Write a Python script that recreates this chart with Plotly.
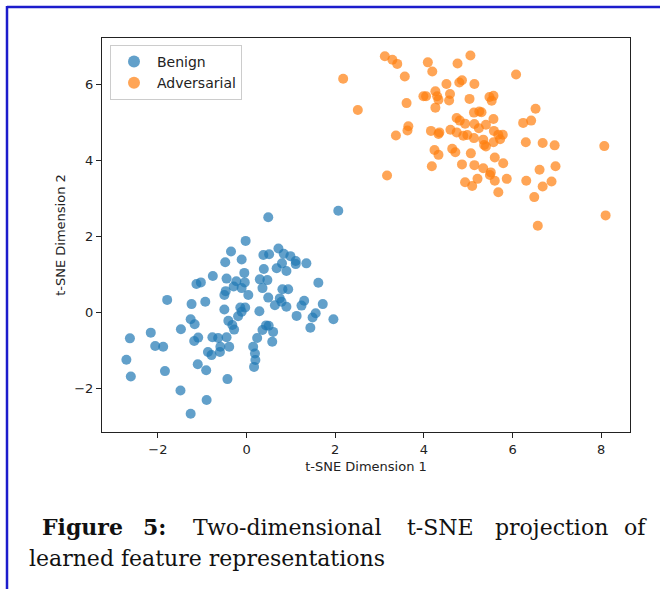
import plotly.graph_objects as go

# ---- data ----
benign_x = [2.07, 0.49, -0.02, -0.35, 0.72, 0.38, 0.51, 0.84, 0.99, 1.11, 1.11, 1.35, -0.48, -0.11, 0.80,
            0.68, 0.90, 0.39, -0.05, -0.76, -0.45, -0.23, -0.04, 0.30, 0.47, -1.03, -1.13, 1.62, -0.11, -0.29,
            -0.47, 0.36, 0.81, 0.94, -0.50, 0.04, -1.79, -0.93, -1.24, 0.49, 0.75, 0.64, 0.90, 1.30, 1.24,
            1.72, -0.14, -0.03, -0.50, 0.29, -0.11, -0.19, 1.13, 1.56, 1.49, 1.96, -1.26, -1.17, -0.41, -0.32,
            -0.28, 0.44, 0.50, 0.36, 0.60, -1.48, -2.16, -2.63, -1.09, -1.18, -0.77, -0.64, -0.45, 0.24, 0.58,
            -2.06, -1.88, -0.59, -0.39, 0.15, -0.87, -0.60, -0.79, 0.19, 0.20, -2.71, 0.17, -1.84, -1.10, -0.91,
            -2.61, -0.43, -1.49, -0.90, -1.26, 1.44, 0.79]
benign_y = [2.67, 2.50, 1.88, 1.60, 1.68, 1.51, 1.53, 1.54, 1.48, 1.35, 1.27, 1.29, 1.32, 1.39, 1.29,
            1.16, 1.09, 1.14, 1.04, 0.96, 0.89, 0.82, 0.79, 0.87, 0.85, 0.79, 0.75, 0.78, 0.64, 0.68,
            0.56, 0.64, 0.61, 0.61, 0.46, 0.46, 0.33, 0.28, 0.22, 0.39, 0.37, 0.19, 0.15, 0.31, 0.18,
            0.22, 0.13, 0.13, 0.08, 0.03, 0.02, -0.10, -0.09, -0.02, -0.13, -0.18, -0.18, -0.31, -0.22, -0.33,
            -0.45, -0.34, -0.35, -0.46, -0.51, -0.44, -0.53, -0.68, -0.66, -0.75, -0.65, -0.67, -0.65, -0.67, -0.77,
            -0.88, -0.90, -0.90, -0.90, -0.90, -1.04, -1.04, -1.12, -1.08, -1.25, -1.24, -1.43, -1.54, -1.36, -1.52,
            -1.68, -1.75, -2.05, -2.30, -2.66, -0.40, 0.28]

adv_x = [3.12, 3.29, 3.40, 5.05, 4.09, 4.76, 4.19, 2.18, 3.57, 6.08, 4.51, 4.80, 4.86, 5.14, 3.99,
         4.05, 4.26, 4.30, 4.33, 4.59, 4.57, 4.26, 5.03, 5.48, 5.57, 5.53, 2.51, 3.61, 5.13, 5.25,
         5.30, 6.52, 6.24, 6.42, 4.74, 4.81, 4.93, 5.14, 5.40, 5.57, 3.65, 3.63, 3.37, 4.16, 4.35,
         4.33, 4.60, 4.74, 4.89, 4.98, 5.24, 5.13, 5.34, 5.36, 5.40, 5.58, 5.68, 5.78, 5.72, 5.57,
         6.30, 6.68, 6.95, 8.07, 4.24, 4.33, 4.64, 4.71, 5.06, 5.60, 4.18, 4.86, 5.14, 5.34, 5.79,
         5.51, 5.49, 5.60, 5.21, 4.93, 5.09, 5.87, 3.17, 6.31, 6.61, 6.97, 6.68, 6.88, 5.68, 6.49,
         6.57, 8.10]
adv_y = [6.73, 6.64, 6.53, 6.75, 6.57, 6.54, 6.33, 6.14, 6.20, 6.25, 6.00, 6.04, 6.10, 6.00, 5.68,
         5.68, 5.81, 5.68, 5.59, 5.74, 5.57, 5.38, 5.61, 5.66, 5.69, 5.56, 5.32, 5.50, 5.25, 5.28,
         5.26, 5.35, 4.98, 5.04, 5.11, 5.04, 4.96, 4.95, 4.93, 5.08, 4.89, 4.78, 4.65, 4.77, 4.73,
         4.69, 4.80, 4.73, 4.64, 4.66, 4.84, 4.58, 4.54, 4.40, 4.36, 4.77, 4.67, 4.67, 4.55, 4.47,
         4.47, 4.45, 4.39, 4.37, 4.27, 4.14, 4.30, 4.21, 4.18, 4.07, 3.84, 3.89, 3.87, 3.79, 3.92,
         3.68, 3.61, 3.46, 3.51, 3.42, 3.32, 3.51, 3.60, 3.46, 3.75, 3.84, 3.31, 3.44, 3.16, 3.03,
         2.28, 2.55]

series_names = ["Benign", "Adversarial"]
x_ticks = [-2, 0, 2, 4, 6, 8]
y_ticks = [-2, 0, 2, 4, 6]
x_title = "t-SNE Dimension 1"
y_title = "t-SNE Dimension 2"

# ---- layout geometry (pixels) ----
W, H = 660, 589
L, R, T, B = 102, 30, 38, 157
PW, PH = W - L - R, H - T - B


def px(xp):
    return (xp - L) / PW


def py(yp):
    return (H - B - yp) / PH


fig = go.Figure()
fig.add_trace(go.Scatter(x=benign_x, y=benign_y, mode="markers", name=series_names[0],
                         marker=dict(color="#1f77b4", size=10, opacity=0.7, line=dict(width=0))))
fig.add_trace(go.Scatter(x=adv_x, y=adv_y, mode="markers", name=series_names[1],
                         marker=dict(color="#ff7f0e", size=10, opacity=0.7, line=dict(width=0))))

axis_common = dict(showgrid=False, zeroline=False, showline=True, linecolor="#222222", linewidth=1.2,
                   mirror=True, ticks="outside", ticklen=5, tickwidth=1, tickcolor="#222222",
                   tickfont=dict(family="DejaVu Sans", size=13, color="#222222"))

fig.update_xaxes(range=[-3.26, 8.65], tickvals=x_ticks,
                 title=dict(text=x_title, font=dict(family="DejaVu Sans", size=13, color="#222222"), standoff=6),
                 **axis_common)
fig.update_yaxes(range=[-3.14, 7.21], tickvals=y_ticks,
                 title=dict(text=y_title, font=dict(family="DejaVu Sans", size=13, color="#222222"), standoff=5),
                 **axis_common)

# caption (justified first line placed word by word)
cap_font = dict(family="DejaVu Serif", size=22, color="#111111")
line1_y, line2_y = 527, 558
words1 = [("<b>Figure</b>", 40, "left"), ("<b>5:</b>", 154, "center"), ("Two-dimensional", 287, "center"),
          ("t-SNE", 440, "center"), ("projection", 551, "center"), ("of", 649, "right")]
annotations = []
for txt, xpix, anc in words1:
    annotations.append(dict(text=txt, x=px(xpix), y=py(line1_y), xref="paper", yref="paper",
                            xanchor=anc, yanchor="middle", showarrow=False, font=cap_font))
annotations.append(dict(text="learned feature representations", x=px(27), y=py(line2_y), xref="paper",
                        yref="paper", xanchor="left", yanchor="middle", showarrow=False, font=cap_font))

border_color = "#1c1ccc"
shapes = [
    dict(type="line", xref="paper", yref="paper", x0=px(7), x1=px(W + 5), y0=py(7), y1=py(7),
         line=dict(color=border_color, width=2.5)),
    dict(type="line", xref="paper", yref="paper", x0=px(7), x1=px(7), y0=py(6), y1=py(H + 5),
         line=dict(color=border_color, width=2.5)),
]

fig.update_layout(
    width=W, height=H,
    margin=dict(l=L, r=R, t=T, b=B, pad=0),
    paper_bgcolor="white", plot_bgcolor="white",
    showlegend=True,
    legend=dict(x=px(110), y=py(45), xanchor="left", yanchor="top",
                bgcolor="rgba(255,255,255,0.8)", bordercolor="#cccccc", borderwidth=1,
                font=dict(family="DejaVu Sans", size=14, color="#222222"), itemsizing="constant",
                itemwidth=36, tracegroupgap=0),
    annotations=annotations,
    shapes=shapes,
)

fig.write_html("out.html", config={"displayModeBar": False},
               post_script="document.body.style.margin='0';document.body.style.padding='0';"
                           "document.documentElement.style.overflow='hidden';")
